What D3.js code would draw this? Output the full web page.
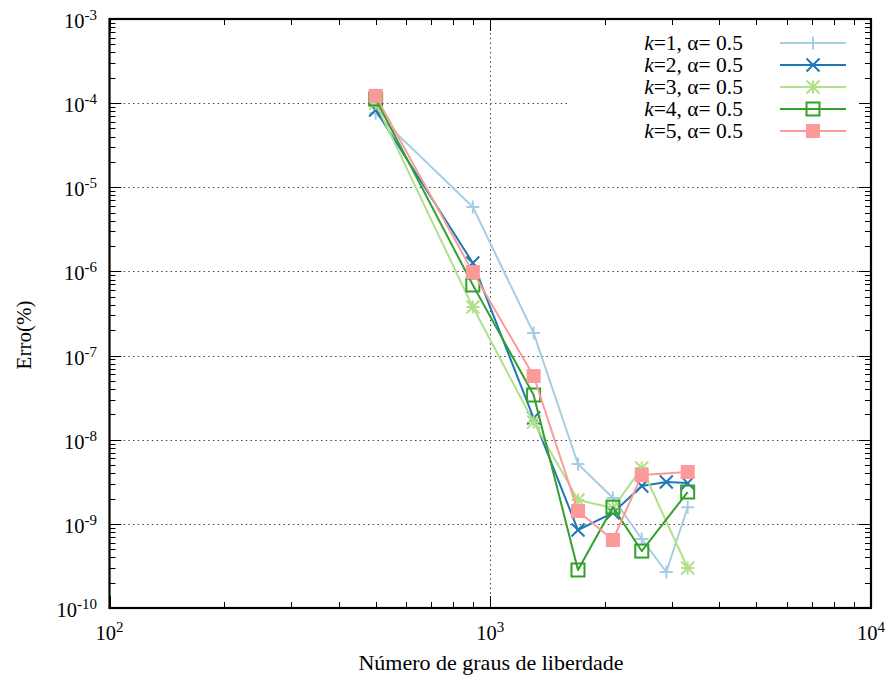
<!DOCTYPE html>
<html>
<head>
<meta charset="utf-8">
<script src="https://cdn.jsdelivr.net/npm/d3@7"></script>
<style>
  html, body { margin: 0; padding: 0; background: #fff; }
  svg { display: block; }
  text { font-family: "Liberation Serif", "Times New Roman", serif; fill: #000; }
</style>
</head>
<body>
<svg id="chart" width="890" height="677"></svg>
<script>
// Degrees of freedom (x) and relative error for each k (null = no point)
const dof = [500, 900, 1300, 1700, 2100, 2500, 2900, 3300];
const errK1 = [7.6e-5, 5.83e-6, 1.85e-7, 5.14e-9, 2.03e-9, 6.6e-10, 2.68e-10, 1.58e-9];
const errK2 = [8.3e-5, 1.26e-6, 1.81e-8, 8.45e-10, 1.35e-9, 2.82e-9, 3.14e-9, 3.05e-9];
const errK3 = [1.0e-4, 3.78e-7, 1.62e-8, 1.92e-9, 1.54e-9, 4.61e-9, null, 2.99e-10];
const errK4 = [1.12e-4, 6.9e-7, 3.4e-8, 2.83e-10, 1.58e-9, 4.75e-10, null, 2.39e-9];
const errK5 = [1.22e-4, 9.84e-7, 5.71e-8, 1.42e-9, 6.43e-10, 3.8e-9, null, 4.13e-9];

const seriesK = [1, 2, 3, 4, 5];
const seriesAlpha = ["0.5", "0.5", "0.5", "0.5", "0.5"];
const seriesValues = [errK1, errK2, errK3, errK4, errK5];
const seriesColors = ["#a6cee3", "#1f78b4", "#b2df8a", "#33a02c", "#fb9a99"];
const seriesMarkers = ["plus", "cross", "star", "openSquare", "filledSquare"];

const xDecades = [2, 3, 4];
const yDecades = [-3, -4, -5, -6, -7, -8, -9, -10];

const xTitle = "Número de graus de liberdade";
const yTitle = "Erro(%)";

const svg = d3.select("#chart");
const plotL = 109.5, plotR = 871, plotT = 19, plotB = 608;

const x = d3.scaleLog().domain([1e2, 1e4]).range([plotL, plotR]);
const y = d3.scaleLog().domain([1e-10, 1e-3]).range([plotB, plotT]);

svg.append("rect").attr("width", 890).attr("height", 677).attr("fill", "#fff");

// Grid lines (dotted) at interior decades
const gridG = svg.append("g")
  .attr("stroke", "#444").attr("stroke-width", 1)
  .attr("stroke-dasharray", "1.5,3.2").attr("fill", "none");
yDecades.filter(d => d > -10 && d < -3).forEach(d => {
  const yy = Math.round(y(Math.pow(10, d))) + 0.5;
  // the top grid line stops short of the key area
  const xEnd = d === -4 ? 568 : plotR;
  gridG.append("line").attr("x1", plotL).attr("x2", xEnd).attr("y1", yy).attr("y2", yy);
});
xDecades.filter(d => d > 2 && d < 4).forEach(d => {
  const xx = Math.round(x(Math.pow(10, d))) + 0.5;
  gridG.append("line").attr("x1", xx).attr("x2", xx).attr("y1", plotT).attr("y2", plotB);
});

// Tick marks on all four sides (major + log minor)
const tickG = svg.append("g").attr("stroke", "#000").attr("stroke-width", 1);
const majorLen = 12, minorLen = 6;
function logTicks(lo, hi) {
  const out = [];
  for (let e = lo; e < hi; e++) {
    for (let m = 1; m <= 9; m++) out.push({ v: m * Math.pow(10, e), major: m === 1 });
  }
  out.push({ v: Math.pow(10, hi), major: true });
  return out;
}
logTicks(2, 4).forEach(t => {
  const xx = Math.round(x(t.v)) + 0.5;
  const len = t.major ? majorLen : minorLen;
  tickG.append("line").attr("x1", xx).attr("x2", xx).attr("y1", plotB).attr("y2", plotB - len);
  tickG.append("line").attr("x1", xx).attr("x2", xx).attr("y1", plotT).attr("y2", plotT + len);
});
logTicks(-10, -3).forEach(t => {
  const yy = Math.round(y(t.v)) + 0.5;
  const len = t.major ? majorLen : minorLen;
  tickG.append("line").attr("x1", plotL).attr("x2", plotL + len).attr("y1", yy).attr("y2", yy);
  tickG.append("line").attr("x1", plotR).attr("x2", plotR - len).attr("y1", yy).attr("y2", yy);
});

// Frame
svg.append("rect")
  .attr("x", plotL).attr("y", plotT)
  .attr("width", plotR - plotL).attr("height", plotB - plotT)
  .attr("fill", "none").attr("stroke", "#000").attr("stroke-width", 2.2);

// Tick labels: 10 with superscript exponent
function powLabel(sel, exp) {
  sel.append("tspan").text("10");
  sel.append("tspan").attr("font-size", 15).attr("dy", -8).text(String(exp));
}
xDecades.forEach(d => {
  const t = svg.append("text")
    .attr("x", x(Math.pow(10, d))).attr("y", 640)
    .attr("font-size", 20.5).attr("text-anchor", "middle");
  powLabel(t, d);
});
yDecades.forEach(d => {
  const t = svg.append("text")
    .attr("x", 97).attr("y", y(Math.pow(10, d)) + 9)
    .attr("font-size", 20.5).attr("text-anchor", "end");
  powLabel(t, d);
});

// Axis titles
svg.append("text")
  .attr("x", 491).attr("y", 670)
  .attr("font-size", 22).attr("text-anchor", "middle")
  .text(xTitle);
svg.append("text")
  .attr("transform", "translate(31,335) rotate(-90)")
  .attr("font-size", 21).attr("text-anchor", "middle")
  .text(yTitle);

// Marker shapes
function drawMarker(g, kind, cx, cy, color) {
  const h = 6.5;
  if (kind === "plus" || kind === "star") {
    g.append("path").attr("d", `M${cx - h},${cy}H${cx + h}M${cx},${cy - h}V${cy + h}`)
      .attr("stroke", color).attr("stroke-width", 2).attr("fill", "none");
  }
  if (kind === "cross" || kind === "star") {
    g.append("path").attr("d", `M${cx - h},${cy - h}L${cx + h},${cy + h}M${cx - h},${cy + h}L${cx + h},${cy - h}`)
      .attr("stroke", color).attr("stroke-width", 2).attr("fill", "none");
  }
  if (kind === "openSquare") {
    g.append("rect").attr("x", cx - h).attr("y", cy - h).attr("width", 2 * h).attr("height", 2 * h)
      .attr("stroke", color).attr("stroke-width", 2).attr("fill", "none");
  }
  if (kind === "filledSquare") {
    g.append("rect").attr("x", cx - h - 0.5).attr("y", cy - h - 0.5).attr("width", 2 * h + 1).attr("height", 2 * h + 1)
      .attr("fill", color);
  }
}

// Series
const line = d3.line().x(d => x(d.x)).y(d => y(d.y));
seriesValues.forEach((vals, i) => {
  const pts = dof.map((xv, j) => ({ x: xv, y: vals[j] })).filter(p => p.y != null);
  const g = svg.append("g");
  g.append("path").datum(pts).attr("d", line)
    .attr("fill", "none").attr("stroke", seriesColors[i]).attr("stroke-width", 2)
    .attr("stroke-linejoin", "round");
  pts.forEach(p => drawMarker(g, seriesMarkers[i], x(p.x), y(p.y), seriesColors[i]));
});

// Key
seriesK.forEach((k, i) => {
  const ly = 43 + i * 22;
  const t = svg.append("text")
    .attr("x", 743).attr("y", ly + 7)
    .attr("font-size", 21.5).attr("text-anchor", "end");
  t.append("tspan").attr("font-style", "italic").text("k");
  t.append("tspan").text(`=${k}, α= ${seriesAlpha[i]}`);
  const g = svg.append("g");
  g.append("line").attr("x1", 780).attr("x2", 846).attr("y1", ly).attr("y2", ly)
    .attr("stroke", seriesColors[i]).attr("stroke-width", 2);
  drawMarker(g, seriesMarkers[i], 813, ly, seriesColors[i]);
});
</script>
</body>
</html>
